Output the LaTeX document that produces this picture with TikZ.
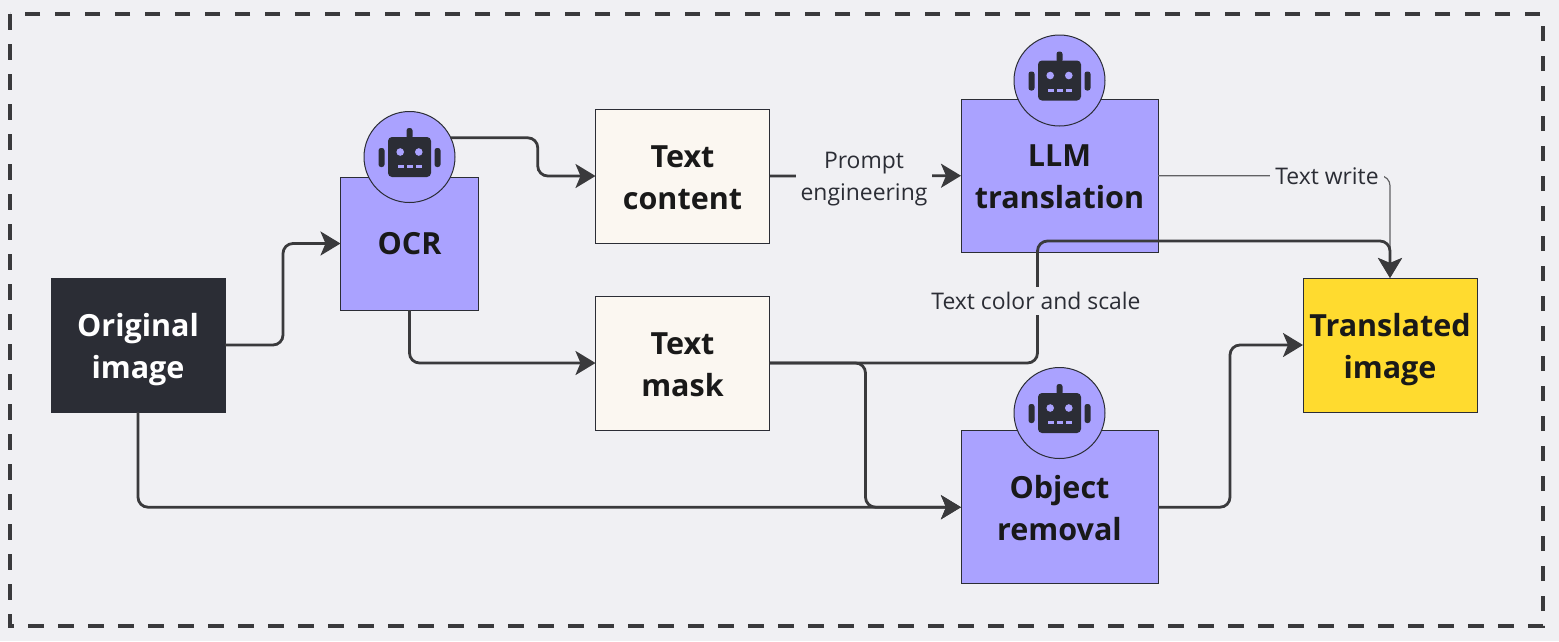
\documentclass[tikz,border=0pt]{standalone}
\usepackage{fontspec}
\setmainfont{Open Sans}
\usetikzlibrary{arrows.meta}
\definecolor{bgcol}{HTML}{F0F0F3}
\definecolor{purplecol}{HTML}{AAA2FF}
\definecolor{creamcol}{HTML}{FBF7F1}
\definecolor{darkcol}{HTML}{2B2D35}
\definecolor{yellowcol}{HTML}{FFDB2F}
\definecolor{linecol}{HTML}{3A3A3C}
\tikzset{
	box/.style={draw=darkcol,line width=1pt,outer sep=0pt,inner sep=0pt,align=center,text=black!90,font=\fontsize{30.5}{42}\selectfont\bfseries},
	twoline/.style={text height=72pt,text depth=6pt},
	small/.style={box,twoline,minimum width=174pt,minimum height=134pt},
	model/.style={box,twoline,fill=purplecol,minimum width=197pt,minimum height=153pt},
	botcircle/.style={draw=darkcol,line width=1pt,fill=purplecol,circle,minimum size=91pt,inner sep=0pt,outer sep=0pt},
	link/.style={draw=linecol,line width=2.8pt,rounded corners=10pt,-{Stealth[length=20pt,width=24pt,inset=5pt]}},
	thinlink/.style={link,line width=1.2pt,draw=linecol!80},
	lab/.style={fill=bgcol,text=darkcol,align=center,inner sep=5pt,font=\fontsize{22.9}{32}\selectfont},
	pics/robot/.style={code={
		\fill[darkcol,rounded corners=4pt] (-21.5,-20) rectangle (21.5,20);
		\fill[darkcol,rounded corners=2.5pt] (-3,-29) rectangle (3,-18);
		\foreach \s in {-1,1}{
			\fill[darkcol,rounded corners=2.5pt] (\s*25,-9) rectangle (\s*31,10);
			\fill[purplecol] (\s*9.3,-5) circle (3.8);
		}
		\foreach \x in {-12,-3,6}{
			\fill[purplecol] (\x,8) rectangle (\x+6,11);
		}
	}}
}
\begin{document}
\begin{tikzpicture}[x=1pt,y=-1pt]
\fill[bgcol] (0,0) rectangle (1559,641);
\useasboundingbox (0,0) rectangle (1559,641);
\draw[line width=3.6pt,draw=linecol,dash pattern=on 15.5pt off 14.5pt] (10,14) rectangle (1543,626);

\node[small,fill=darkcol,text=white] (orig) at (138,345) {Original\\image};
\node[box,fill=purplecol,minimum width=138pt,minimum height=133pt] (ocr) at (409.5,243.5) {OCR};
\node[small,fill=creamcol] (content) at (682.5,176) {Text\\content};
\node[small,fill=creamcol] (mask) at (682.5,363) {Text\\mask};
\node[model] (llm) at (1059.5,175.7) {LLM\\translation};
\node[model] (removal) at (1059.5,507.2) {Object\\removal};
\node[small,fill=yellowcol] (trans) at (1390,345) {Translated\\image};

\foreach \name/\x/\y in {ocrbot/409.5/157,llmbot/1059.5/80.5,removalbot/1059.5/413}
{
	\node[botcircle] (\name) at (\x,\y) {};
	\pic at (\name) {robot};
}

\draw[link] (orig.east) -- ++(58,0) |- (ocr.west);
\draw[link] (ocrbot.25) -- ++(87,0) |- (content.west);
\draw[link] (ocr.south) |- (mask.west);
\draw[link] (content.east) -- (llm.west);
\draw[thinlink] (llm.east) -| (trans.north);
\draw[link] (mask.east) -- ++(268,0) -- ++(0,-122) -| (trans.north);
\draw[link] (mask.east) -- ++(96,0) |- (removal.west);
\draw[link] (orig.south) |- (removal.west);
\draw[link] (removal.east) -- ++(72,0) |- (trans.west);

\node[lab] (prompt) at (864,179) {Prompt\\engineering};
\node[lab] (write) at (1327,176) {Text write};
\node[lab,inner xsep=0pt] (color) at (1036,301) {Text color and scale};
\end{tikzpicture}
\end{document}
